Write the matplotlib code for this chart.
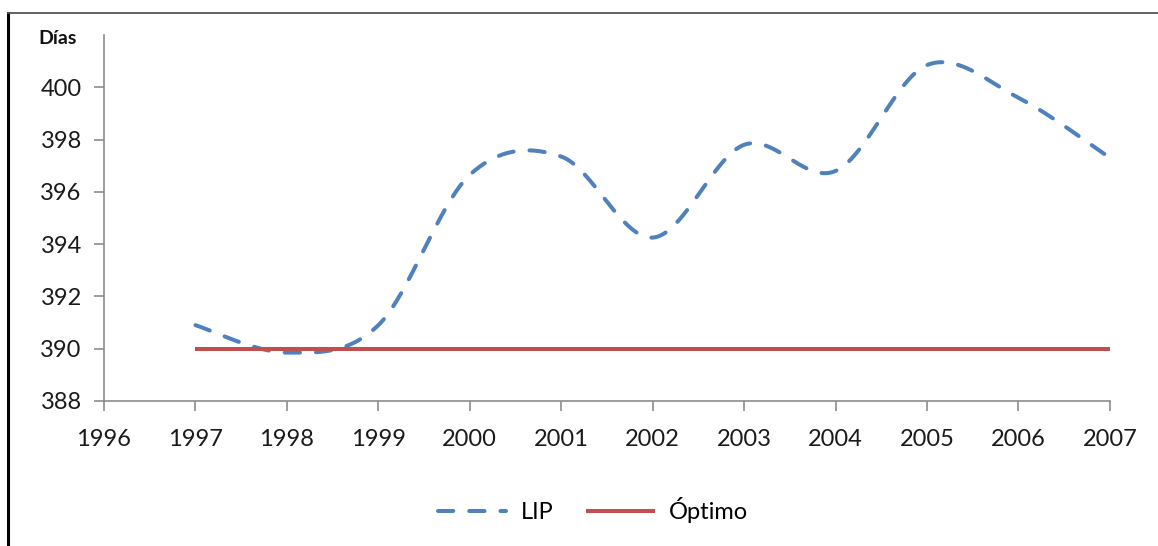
import matplotlib.pyplot as plt
import numpy as np
from matplotlib.lines import Line2D

plt.rcParams['font.family'] = ['Lato', 'DejaVu Sans']
plt.rcParams['lines.scale_dashes'] = False

# data
years = [1997, 1998, 1999, 2000, 2001, 2002, 2003, 2004, 2005, 2006, 2007]
lip = [390.9, 389.85, 390.9, 396.65, 397.35, 394.25, 397.8, 396.8, 400.85, 399.6, 397.3]
optimo = [390, 390, 390, 390, 390, 390, 390, 390, 390, 390, 390]
xticks = list(range(1996, 2008))
yticks = [388, 390, 392, 394, 396, 398, 400]


def smooth(xs, ys, n=40):
    # Excel-style smoothed line: cubic Bezier segments through every point
    x = np.asarray(xs, float)
    y = np.asarray(ys, float)
    px = np.concatenate([[x[0]], x, [x[-1]]])
    py = np.concatenate([[y[0]], y, [y[-1]]])
    outx, outy = [], []
    t = np.linspace(0, 1, n)
    for i in range(len(x) - 1):
        p0 = np.array([x[i], y[i]])
        p3 = np.array([x[i + 1], y[i + 1]])
        p1 = p0 + (np.array([px[i + 2], py[i + 2]]) - np.array([px[i], py[i]])) / 6
        p2 = p3 - (np.array([px[i + 3], py[i + 3]]) - np.array([px[i + 1], py[i + 1]])) / 6
        b = ((1 - t) ** 3)[:, None] * p0 + (3 * (1 - t) ** 2 * t)[:, None] * p1 \
            + (3 * (1 - t) * t ** 2)[:, None] * p2 + (t ** 3)[:, None] * p3
        outx.extend(b[:, 0])
        outy.extend(b[:, 1])
    return outx, outy


fig = plt.figure(figsize=(11.58, 5.46), dpi=100)
ax = fig.add_axes([0.0898, 0.2656, 0.8687, 0.6703])

sx, sy = smooth(years, lip)
ax.plot(sx, sy, color='#4F81BD', lw=2.9, dashes=(11, 11.5),
        dash_capstyle='round', label='LIP')
ax.plot(years, optimo, color='#C0504D', lw=2.9, solid_capstyle='butt',
        label='Óptimo')

ax.set_xlim(1996, 2007)
ax.set_ylim(388, 402)
ax.set_xticks(xticks)
ax.set_yticks(yticks)
ax.tick_params(axis='both', direction='out', length=7, width=1.2,
               color='#8c8c8c', labelsize=17, labelcolor='#1a1a1a')
ax.tick_params(axis='x', pad=13)
ax.tick_params(axis='y', pad=9)
for s in ['top', 'right']:
    ax.spines[s].set_visible(False)
for s in ['left', 'bottom']:
    ax.spines[s].set_color('#8c8c8c')
    ax.spines[s].set_linewidth(1.2)

fig.text(0.033, 0.93, 'Días', fontsize=14, fontweight='bold', color='#111111',
         va='center')

leg = fig.legend(loc='center', bbox_to_anchor=(0.512, 0.066), ncol=2,
                 frameon=False, fontsize=17, handlelength=2.9,
                 columnspacing=1.4, handletextpad=0.6)

# outer frame pieces visible in the screenshot
fig.add_artist(Line2D([0.0065, 0.0065], [0, 0.976], transform=fig.transFigure,
                      color='black', lw=2.2))
fig.add_artist(Line2D([0.0065, 1.0], [0.976, 0.976], transform=fig.transFigure,
                      color='#555555', lw=1.3))

fig.savefig('out.png', dpi=100)
